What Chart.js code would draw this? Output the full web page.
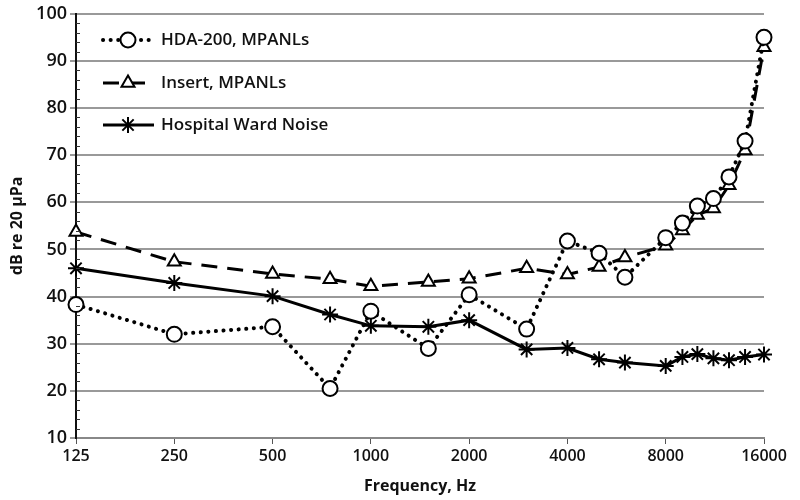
<!DOCTYPE html>
<html lang="en">
<head>
  <meta charset="UTF-8">
  <title>MPANLs vs Hospital Ward Noise</title>
  <script src="https://cdn.jsdelivr.net/npm/chart.js"></script>
  <style>
    body { margin: 0; background: #fff; }
    #wrap { width: 800px; height: 500px; }
  </style>
</head>
<body>
  <div id="wrap"><canvas id="noiseChart" width="800" height="500"></canvas></div>

  <script>
    const freqs = [125, 250, 500, 750, 1000, 1500, 2000, 3000, 4000, 5000, 6000, 8000, 9000, 10000, 11200, 12500, 14000, 16000];
    const hdaMpanl = [38.3, 32.0, 33.6, 20.5, 36.9, 29.0, 40.4, 33.1, 51.8, 49.2, 44.1, 52.5, 55.6, 59.2, 60.8, 65.4, 73.0, 95.0];
    const insertMpanl = [53.7, 47.4, 44.8, 43.7, 42.2, 43.1, 43.8, 46.0, 44.7, 46.3, 48.3, 50.8, 54.0, 57.3, 58.7, 63.6, 71.0, 92.9];
    const wardNoise = [46.0, 42.9, 40.1, 36.2, 33.8, 33.6, 35.0, 28.8, 29.1, 26.7, 26.0, 25.3, 27.2, 27.8, 26.9, 26.5, 27.2, 27.7];
    const xTicks = [125, 250, 500, 1000, 2000, 4000, 8000, 16000];

    const FONT = '"Open Sans", sans-serif';
    const pts = arr => arr.map((v, i) => ({ x: freqs[i], y: v }));

    // legend drawn inside the plot, top left
    const insideLegend = {
      id: 'insideLegend',
      afterDraw(chart) {
        const ctx = chart.ctx;
        const rows = [
          { ds: 0, y: 40 },
          { ds: 1, y: 83 },
          { ds: 2, y: 125 }
        ];
        ctx.save();
        rows.forEach(r => {
          const ds = chart.data.datasets[r.ds];
          ctx.strokeStyle = '#000';
          ctx.lineWidth = ds.borderWidth;
          ctx.lineCap = ds.borderCapStyle || 'butt';
          ctx.setLineDash(ds.borderDash || []);
          ctx.beginPath();
          ctx.moveTo(103, r.y);
          ctx.lineTo(154, r.y);
          ctx.stroke();
          ctx.setLineDash([]);
          ctx.lineCap = 'butt';
          ctx.lineWidth = ds.pointBorderWidth;
          ctx.fillStyle = ds.pointBackgroundColor;
          Chart.helpers.drawPoint(ctx, {
            pointStyle: ds.pointStyle, radius: ds.pointRadius,
            borderWidth: ds.pointBorderWidth, rotation: 0
          }, 128, r.y);
          ctx.fillStyle = '#111';
          ctx.font = '600 17px ' + FONT;
          ctx.textBaseline = 'middle';
          ctx.fillText(ds.label, 161, r.y);
        });
        ctx.restore();
      }
    };

    // small minor ticks on the right side of the y axis
    const minorTicks = {
      id: 'minorTicks',
      afterDraw(chart) {
        const y = chart.scales.y, ctx = chart.ctx, x0 = chart.chartArea.left;
        ctx.save();
        ctx.strokeStyle = '#333';
        ctx.lineWidth = 1;
        for (let v = 12; v < 100; v += 2) {
          if (v % 10 === 0) continue;
          const py = Math.round(y.getPixelForValue(v)) + 0.5;
          ctx.beginPath();
          ctx.moveTo(x0, py);
          ctx.lineTo(x0 + 4, py);
          ctx.stroke();
        }
        ctx.restore();
      }
    };

    new Chart(document.getElementById('noiseChart'), {
      type: 'line',
      data: {
        datasets: [
          {
            label: 'HDA-200, MPANLs',
            data: pts(hdaMpanl),
            borderColor: '#000',
            borderWidth: 4,
            borderDash: [0.1, 7.5],
            borderCapStyle: 'round',
            pointStyle: 'circle',
            pointRadius: 7.5,
            pointBorderWidth: 2,
            pointBackgroundColor: '#fff',
            pointBorderColor: '#000',
            clip: false,
            tension: 0
          },
          {
            label: 'Insert, MPANLs',
            data: pts(insertMpanl),
            borderColor: '#000',
            borderWidth: 3,
            borderDash: [16, 10],
            pointStyle: 'triangle',
            pointRadius: 7.5,
            pointBorderWidth: 2,
            pointBackgroundColor: '#fff',
            pointBorderColor: '#000',
            clip: false,
            tension: 0
          },
          {
            label: 'Hospital Ward Noise',
            data: pts(wardNoise),
            borderColor: '#000',
            borderWidth: 3,
            pointStyle: 'star',
            pointRadius: 8,
            pointBorderWidth: 2,
            pointBackgroundColor: '#000',
            pointBorderColor: '#000',
            clip: false,
            tension: 0
          }
        ]
      },
      options: {
        responsive: false,
        animation: false,
        layout: { padding: { top: 8, right: 36, left: 0, bottom: 0 } },
        plugins: {
          legend: { display: false },
          tooltip: { enabled: false }
        },
        scales: {
          x: {
            type: 'logarithmic',
            min: 125,
            max: 16000,
            afterBuildTicks: s => { s.ticks = xTicks.map(v => ({ value: v })); },
            afterFit: s => { s.height = 62; },
            border: { display: true, color: '#888', width: 2 },
            grid: { drawOnChartArea: false, color: '#555', tickLength: 6, lineWidth: 1 },
            ticks: {
              autoSkip: false,
              maxRotation: 0,
              color: '#111',
              font: { family: FONT, size: 16, weight: '600' },
              callback: v => String(v)
            },
            title: {
              display: true,
              text: 'Frequency, Hz',
              color: '#111',
              font: { family: FONT, size: 16, weight: 'bold' },
              padding: { top: 2 }
            }
          },
          y: {
            min: 10,
            max: 100,
            afterFit: s => { s.width = 76; },
            border: { display: true, color: '#111', width: 2 },
            grid: { color: '#999', lineWidth: 2, tickLength: 6 },
            ticks: {
              stepSize: 10,
              color: '#111',
              padding: 3,
              font: { family: FONT, size: 18, weight: '600' }
            },
            title: {
              display: true,
              text: 'dB re 20 µPa',
              color: '#111',
              font: { family: FONT, size: 16, weight: 'bold' },
              padding: { top: 8, bottom: 2 }
            }
          }
        }
      },
      plugins: [insideLegend, minorTicks]
    });
  </script>
</body>
</html>
